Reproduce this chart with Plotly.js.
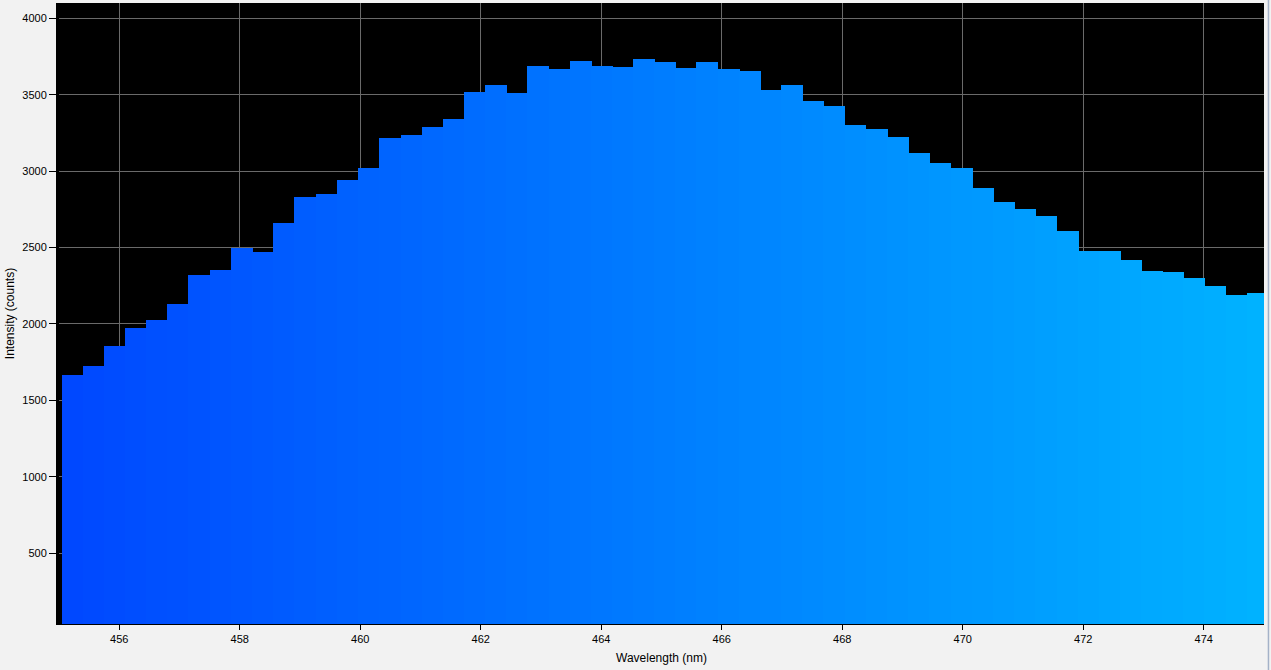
<!DOCTYPE html>
<html>
<head>
<meta charset="utf-8">
<script src="https://cdn.plot.ly/plotly-3.0.1.min.js"></script>
<style>
html,body{margin:0;padding:0;background:#f2f2f2;}
#chart{width:1271px;height:670px;}
</style>
</head>
<body>
<div id="chart"></div>
<script>
var wavelength = [
  455.23, 455.58, 455.93, 456.28, 456.63, 456.98, 457.33, 457.69, 458.04, 458.39,
  458.74, 459.09, 459.44, 459.79, 460.14, 460.50, 460.85, 461.20, 461.55, 461.90,
  462.25, 462.60, 462.95, 463.31, 463.66, 464.01, 464.36, 464.71, 465.06, 465.41,
  465.76, 466.12, 466.47, 466.82, 467.17, 467.52, 467.87, 468.22, 468.57, 468.93,
  469.28, 469.63, 469.98, 470.33, 470.68, 471.03, 471.38, 471.74, 472.09, 472.44,
  472.79, 473.14, 473.49, 473.84, 474.19, 474.55, 474.90
];
var intensity = [
  1666, 1725, 1856, 1974, 2027, 2131, 2321, 2354, 2499, 2473,
  2661, 2831, 2850, 2942, 3020, 3216, 3236, 3288, 3340, 3518,
  3563, 3511, 3688, 3668, 3720, 3688, 3681, 3734, 3714, 3675,
  3714, 3668, 3655, 3531, 3563, 3459, 3426, 3301, 3275, 3223,
  3119, 3053, 3020, 2889, 2797, 2752, 2706, 2608, 2478, 2478,
  2420, 2346, 2339, 2300, 2248, 2189, 2202
];
var xTicks = [456, 458, 460, 462, 464, 466, 468, 470, 472, 474];
var yTicks = [500, 1000, 1500, 2000, 2500, 3000, 3500, 4000];

// colour of each bar: blue gradient across the spectrum (style only)
var colors = wavelength.map(function (w, i) {
  var g = Math.round(72 + (178 - 72) * i / (wavelength.length - 1));
  return 'rgb(0,' + g + ',255)';
});

var trace = {
  type: 'bar',
  x: wavelength,
  y: intensity,
  width: wavelength.map(function () { return 0.364; }),
  marker: { color: colors, line: { width: 0 } },
  hoverinfo: 'x+y'
};

var layout = {
  width: 1271,
  height: 670,
  margin: { l: 59, r: 7, t: 3, b: 46, pad: 0 },
  paper_bgcolor: '#f2f2f2',
  plot_bgcolor: '#000000',
  bargap: 0,
  barmode: 'overlay',
  showlegend: false,
  font: { family: 'Liberation Sans, Arial, sans-serif', size: 11, color: '#000' },
  xaxis: {
    range: [455, 475],
    tickvals: xTicks,
    ticktext: xTicks.map(String),
    ticks: 'outside',
    ticklen: 5,
    tickcolor: '#000',
    tickfont: { size: 11, color: '#000' },
    showgrid: true,
    gridcolor: '#6a6a6a',
    gridwidth: 1,
    showline: true,
    linecolor: '#000',
    linewidth: 1,
    zeroline: false,
    title: { text: 'Wavelength (nm)', font: { size: 12, color: '#000' }, standoff: 9 }
  },
  yaxis: {
    range: [37, 4100],
    tickvals: yTicks,
    ticktext: yTicks.map(String),
    ticks: 'outside',
    ticklen: 7,
    tickcolor: '#000',
    tickfont: { size: 11, color: '#000' },
    showgrid: true,
    gridcolor: '#6a6a6a',
    gridwidth: 1,
    showline: true,
    linecolor: '#000',
    linewidth: 3,
    zeroline: false,
    title: { text: 'Intensity (counts)', font: { size: 12, color: '#000' }, standoff: 6 }
  },
  shapes: [
    { type: 'line', xref: 'paper', yref: 'paper', x0: 1.0037, x1: 1.0037, y0: -0.08, y1: 1.01,
      line: { color: '#a4b2c8', width: 1.5 } }
  ]
};

Plotly.newPlot('chart', [trace], layout, { displayModeBar: false, staticPlot: true });
</script>
</body>
</html>
